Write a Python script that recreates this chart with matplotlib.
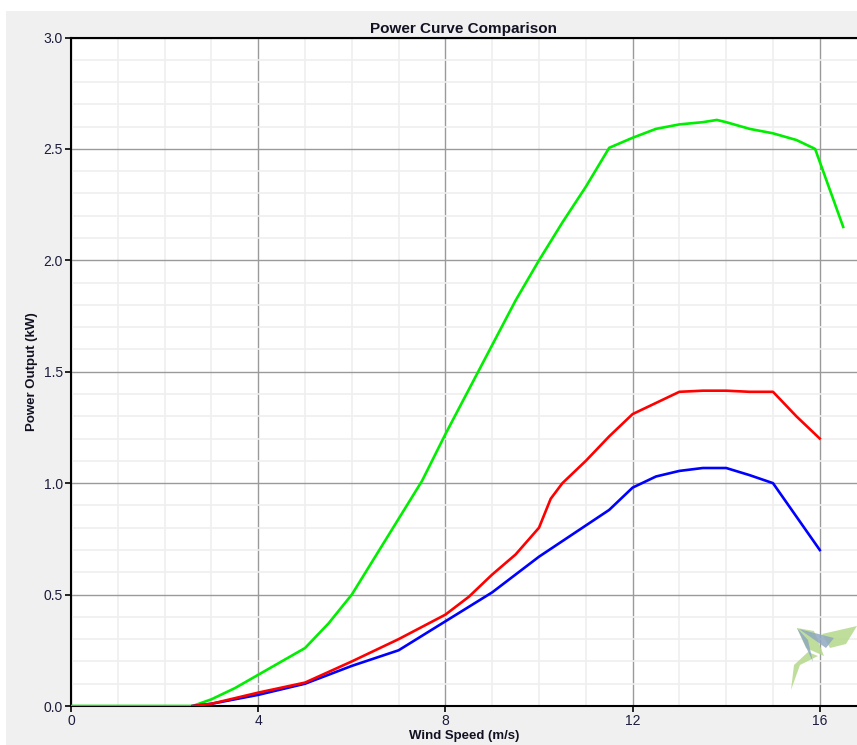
import matplotlib.pyplot as plt
from matplotlib.patches import Rectangle, Polygon
from matplotlib.ticker import MultipleLocator

# wind speed (m/s) and power output (kW) for three turbines
green_ws = [0, 1, 2, 2.6, 3, 3.5, 4, 4.5, 5, 5.5, 6, 6.5, 7, 7.5, 8, 8.5, 9, 9.5,
            10, 10.5, 11, 11.5, 12, 12.5, 13, 13.5, 13.8, 14, 14.5, 15, 15.5, 15.9, 16.5]
green_kw = [0, 0, 0, 0, 0.03, 0.08, 0.14, 0.2, 0.26, 0.37, 0.5, 0.67, 0.84, 1.01, 1.22,
            1.42, 1.62, 1.82, 2.0, 2.17, 2.33, 2.505, 2.55, 2.59, 2.61, 2.62, 2.63, 2.62,
            2.59, 2.57, 2.54, 2.5, 2.15]

red_ws = [2.6, 3, 4, 5, 6, 7, 8, 8.5, 9, 9.5, 10, 10.25, 10.5, 11, 11.5, 12, 12.5, 13,
          13.5, 14, 14.5, 15, 15.5, 16]
red_kw = [0, 0.01, 0.06, 0.105, 0.2, 0.3, 0.41, 0.49, 0.59, 0.68, 0.8, 0.93, 1.0, 1.1,
          1.21, 1.31, 1.36, 1.41, 1.415, 1.415, 1.41, 1.41, 1.3, 1.2]

blue_ws = [2.6, 3, 4, 5, 6, 7, 8, 9, 10, 11, 11.5, 12, 12.5, 13, 13.5, 14, 14.5,
           15, 15.5, 16]
blue_kw = [0, 0.01, 0.05, 0.1, 0.18, 0.25, 0.38, 0.51, 0.67, 0.81, 0.88, 0.98, 1.03,
           1.055, 1.068, 1.068, 1.036, 1.0, 0.85, 0.7]

W, H = 857, 745
fig = plt.figure(figsize=(W / 100, H / 100), dpi=100)
fig.patch.set_facecolor('white')
fig.patches.append(Rectangle((6 / W, 0), 1, 1 - 11 / H, transform=fig.transFigure,
                             facecolor='#f0f0f0', edgecolor='none', zorder=-10))

ax = fig.add_axes([71 / W, 39 / H, (W - 71) / W, (706 - 37.5) / H])
ax.set_facecolor('white')

ax.plot(green_ws, green_kw, color='#00ee00', lw=1.9, zorder=3)
ax.plot(blue_ws, blue_kw, color='#0000ff', lw=1.9, zorder=3)
ax.plot(red_ws, red_kw, color='#ff0000', lw=1.9, zorder=4)

ax.set_xlim(0, (W - 71) / 46.8)
ax.set_ylim(0, 3.0)
ax.xaxis.set_major_locator(MultipleLocator(4))
ax.xaxis.set_minor_locator(MultipleLocator(1))
ax.yaxis.set_major_locator(MultipleLocator(0.5))
ax.yaxis.set_minor_locator(MultipleLocator(0.1))
ax.yaxis.set_major_formatter(plt.FuncFormatter(lambda v, p: f'{v:.1f}'))

ax.grid(which='minor', color='#efefef', lw=1.2, zorder=0)
ax.grid(which='major', color='#9a9a9a', lw=1.0, zorder=1)
ax.set_axisbelow(True)

for s in ['left', 'bottom', 'top']:
    ax.spines[s].set_color('black')
    ax.spines[s].set_linewidth(1.5)
ax.spines['right'].set_visible(False)

ax.tick_params(which='major', direction='out', length=4, width=1.2, colors='black',
               labelcolor='#1c1c3c', labelsize=10, pad=2)
ax.tick_params(which='minor', length=0)
for lbl in ax.get_xticklabels() + ax.get_yticklabels():
    lbl.set_family('Liberation Sans')

ax.set_title('Power Curve Comparison', fontsize=11, fontweight='bold',
             family='Liberation Sans', color='#111122', pad=3)
ax.set_xlabel('Wind Speed (m/s)', fontsize=9.5, fontweight='bold',
              family='Liberation Sans', color='#111122', labelpad=1)
ax.set_ylabel('Power Output (kW)', fontsize=9.5, fontweight='bold',
              family='Liberation Sans', color='#111122', labelpad=4)

# small kite watermark in the lower right corner
def px(pts):
    return [(x / W, 1 - y / H) for x, y in pts]

logo = [
    (px([(791, 690), (794, 665), (808, 652), (818, 656), (800, 665)]), '#b5d98a'),
    (px([(797, 628), (814, 631), (824, 656), (806, 648)]), '#b5d98a'),
    (px([(822, 634), (857, 626), (846, 644), (830, 648)]), '#b5d98a'),
    (px([(797, 628), (813, 662), (808, 640)]), '#8fa8c0'),
    (px([(799, 629), (834, 638), (826, 648)]), '#8fa8c0'),
]
for pts, col in logo:
    fig.patches.append(Polygon(pts, closed=True, transform=fig.transFigure,
                               facecolor=col, edgecolor='none', alpha=0.85, zorder=5))

fig.savefig('out.png', dpi=100)
